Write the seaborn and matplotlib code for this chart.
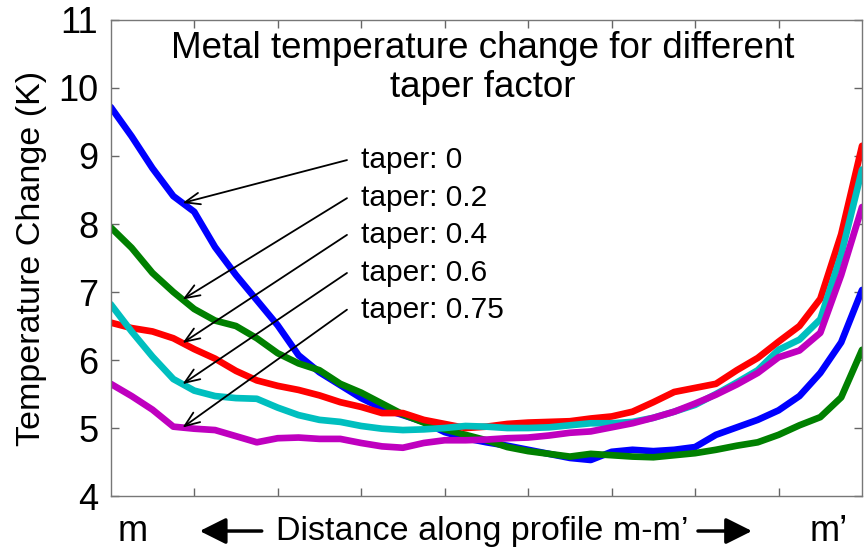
import numpy as np
import pandas as pd
import seaborn as sns
import matplotlib.pyplot as plt

# distance along profile m-m' (arbitrary units, 9 tick intervals)
distance = np.arange(0, 9.01, 0.25)

taper_0 = [9.72, 9.29, 8.82, 8.41, 8.18, 7.66, 7.25, 6.88, 6.51, 6.07, 5.82, 5.63, 5.44,
           5.29, 5.19, 5.09, 4.94, 4.85, 4.79, 4.74, 4.68, 4.62, 4.56, 4.53, 4.65, 4.68,
           4.66, 4.68, 4.72, 4.90, 5.01, 5.12, 5.26, 5.47, 5.81, 6.26, 7.03]
taper_02 = [7.95, 7.65, 7.28, 7.00, 6.75, 6.58, 6.50, 6.32, 6.10, 5.95, 5.85, 5.65, 5.52,
            5.36, 5.20, 5.08, 4.98, 4.90, 4.82, 4.72, 4.66, 4.62, 4.58, 4.62, 4.60, 4.58,
            4.57, 4.60, 4.63, 4.68, 4.74, 4.79, 4.90, 5.04, 5.16, 5.45, 6.15]
taper_04 = [6.55, 6.47, 6.42, 6.32, 6.16, 6.02, 5.84, 5.70, 5.62, 5.56, 5.48, 5.38, 5.31,
            5.22, 5.22, 5.12, 5.06, 5.00, 5.02, 5.06, 5.08, 5.09, 5.10, 5.14, 5.17, 5.24,
            5.38, 5.53, 5.59, 5.65, 5.85, 6.03, 6.27, 6.50, 6.90, 7.85, 9.15]
taper_06 = [6.82, 6.42, 6.05, 5.72, 5.55, 5.47, 5.44, 5.43, 5.30, 5.19, 5.12, 5.09, 5.03,
            4.99, 4.97, 4.98, 5.00, 5.03, 5.02, 5.00, 5.00, 5.01, 5.04, 5.07, 5.07, 5.09,
            5.15, 5.24, 5.34, 5.50, 5.67, 5.85, 6.15, 6.30, 6.60, 7.55, 8.80]
taper_075 = [5.65, 5.47, 5.27, 5.02, 4.99, 4.97, 4.88, 4.79, 4.85, 4.86, 4.84, 4.84, 4.78,
             4.73, 4.71, 4.78, 4.82, 4.82, 4.83, 4.85, 4.86, 4.89, 4.93, 4.95, 5.01, 5.07,
             5.15, 5.24, 5.36, 5.49, 5.64, 5.81, 6.04, 6.14, 6.40, 7.25, 8.25]

labels = ["taper: 0", "taper: 0.2", "taper: 0.4", "taper: 0.6", "taper: 0.75"]
series = [taper_0, taper_02, taper_04, taper_06, taper_075]
colors = ["#0000ff", "#008000", "#ff0000", "#00bfbf", "#bf00bf"]

df = pd.concat([pd.DataFrame({"distance": distance, "dT": s, "taper": lab})
                for s, lab in zip(series, labels)])

sns.set_style("ticks")
plt.rcParams['font.family'] = ['Liberation Sans', 'DejaVu Sans']
plt.rcParams['text.color'] = 'black'
plt.rcParams['axes.labelcolor'] = 'black'
plt.rcParams['ytick.labelcolor'] = 'black'

fig = plt.figure(figsize=(8.65, 5.52), dpi=100)
ax = fig.add_axes([0.128, 0.1014, 0.8686, 0.8624])

sns.lineplot(data=df, x="distance", y="dT", hue="taper", palette=colors,
             linewidth=4.8, legend=False, ax=ax)

ax.set_xlim(0, 9)
ax.set_ylim(4, 11)
ax.set_xticks(range(1, 9))
ax.set_xticklabels([])
ax.set_yticks(range(4, 12))
ax.tick_params(direction="in", length=6, width=1, color="#666666",
               top=True, right=True, labelsize=26, pad=9)
for sp in ax.spines.values():
    sp.set_color("#777777")
    sp.set_linewidth(1)
ax.set_xlabel("")
ax.set_ylabel("Temperature Change (K)", fontsize=24.5, labelpad=8)

ax.text(0.495, 0.899, "Metal temperature change for different\ntaper factor",
        transform=ax.transAxes, ha="center", va="center", fontsize=26.5, linespacing=1.12)

# labels with arrows pointing at each curve
tip_x = 0.86
tail_x = 2.83
text_y = [8.94, 8.38, 7.84, 7.28, 6.74]
for s, lab, ty in zip(series, labels, text_y):
    ax.text(3.0, ty, lab, fontsize=21.5, va="center", ha="left")
    ax.annotate("", xy=(tip_x, np.interp(tip_x, distance, s)), xytext=(tail_x, ty),
                arrowprops=dict(arrowstyle="->,head_length=0.9,head_width=0.35",
                                color="black", lw=1.3, shrinkA=0, shrinkB=0,
                                mutation_scale=12))

# x axis annotation below the plot
ax.text(0.029, -0.0735, "m", transform=ax.transAxes, ha="center", va="center", fontsize=26)
ax.text(0.955, -0.0735, "m\u2019", transform=ax.transAxes, ha="center", va="center", fontsize=26)
ax.text(0.495, -0.0735, "Distance along profile m-m\u2019", transform=ax.transAxes,
        ha="center", va="center", fontsize=24.5)
for tail, tip in [(0.201, 0.1185), (0.7816, 0.8535)]:
    ax.annotate("", xy=(tip, -0.0735), xytext=(tail, -0.0735),
                xycoords="axes fraction", textcoords="axes fraction",
                arrowprops=dict(arrowstyle="-|>,head_length=1.0,head_width=0.5",
                                color="black", lw=2.5, shrinkA=0, shrinkB=0,
                                mutation_scale=16))

fig.savefig("out.png", dpi=100)
